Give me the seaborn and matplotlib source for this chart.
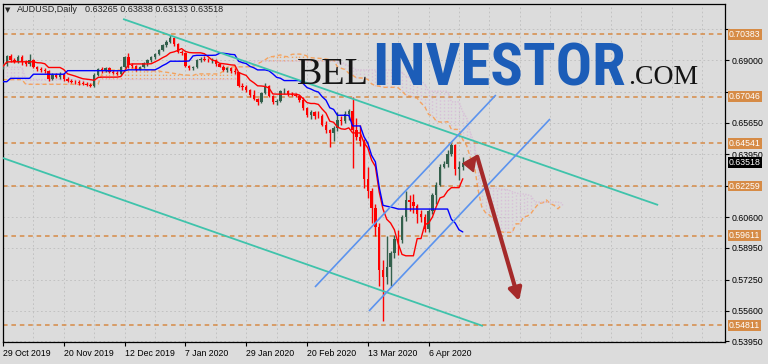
import numpy as np
import pandas as pd
import matplotlib
matplotlib.use("Agg")
import matplotlib.pyplot as plt
from matplotlib.patches import Polygon
import seaborn as sns

# ---------------- data ----------------
symbol_title = "AUDUSD,Daily"
last_ohlc = "0.63265 0.63838 0.63133 0.63518"

opens = [0.6856, 0.6878, 0.6920, 0.6898, 0.6890, 0.6916, 0.6890, 0.6876, 0.6902, 0.6862,
         0.6850, 0.6845, 0.6840, 0.6798, 0.6818, 0.6810, 0.6825, 0.6800, 0.6790, 0.6785,
         0.6782, 0.6778, 0.6772, 0.6766, 0.6762, 0.6822, 0.6850, 0.6845, 0.6856, 0.6838,
         0.6832, 0.6826, 0.6862, 0.6915, 0.6875, 0.6866, 0.6848, 0.6862, 0.6882, 0.6898,
         0.6915, 0.6930, 0.6955, 0.6978, 0.6998, 0.7020, 0.6985, 0.6945, 0.6940, 0.6868,
         0.6858, 0.6862, 0.6898, 0.6908, 0.6902, 0.6898, 0.6900, 0.6878, 0.6865, 0.6848,
         0.6855, 0.6840, 0.6835, 0.6762, 0.6755, 0.6738, 0.6712, 0.6690, 0.6675, 0.6725,
         0.6760, 0.6708, 0.6675, 0.6682, 0.6732, 0.6735, 0.6718, 0.6715, 0.6708, 0.6688,
         0.6642, 0.6605, 0.6620, 0.6602, 0.6598, 0.6555, 0.6525, 0.6512, 0.6535, 0.6580,
         0.6575, 0.6610, 0.6625, 0.6525, 0.6490, 0.6468, 0.6265, 0.6200, 0.6110, 0.6005,
         0.5775, 0.5740, 0.5795, 0.5870, 0.5945, 0.5935, 0.6060, 0.6150, 0.6140, 0.6120,
         0.6075, 0.6060, 0.5995, 0.6095, 0.6180, 0.6230, 0.6330, 0.6345, 0.6395, 0.6445,
         0.6315, 0.63265]
highs = [0.6882, 0.6929, 0.6931, 0.6912, 0.6929, 0.6925, 0.6900, 0.6930, 0.6908, 0.6870,
         0.6865, 0.6858, 0.6845, 0.6830, 0.6830, 0.6835, 0.6828, 0.6810, 0.6800, 0.6795,
         0.6795, 0.6788, 0.6780, 0.6775, 0.6828, 0.6858, 0.6862, 0.6862, 0.6862, 0.6848,
         0.6840, 0.6868, 0.6922, 0.6940, 0.6885, 0.6872, 0.6870, 0.6888, 0.6905, 0.6920,
         0.6935, 0.6960, 0.6985, 0.7005, 0.7032, 0.7022, 0.6990, 0.6955, 0.6945, 0.6875,
         0.6870, 0.6905, 0.6915, 0.6920, 0.6912, 0.6910, 0.6905, 0.6885, 0.6872, 0.6862,
         0.6860, 0.6855, 0.6838, 0.6775, 0.6765, 0.6745, 0.6740, 0.6695, 0.6730, 0.6775,
         0.6765, 0.6712, 0.6690, 0.6740, 0.6750, 0.6740, 0.6730, 0.6722, 0.6712, 0.6700,
         0.6650, 0.6630, 0.6625, 0.6625, 0.6610, 0.6575, 0.6530, 0.6545, 0.6620, 0.6600,
         0.6625, 0.6640, 0.6700, 0.6590, 0.6550, 0.6478, 0.6330, 0.6215, 0.6130, 0.6030,
         0.5830, 0.5960, 0.5880, 0.5965, 0.5990, 0.6070, 0.6200, 0.6180, 0.6185, 0.6130,
         0.6100, 0.6075, 0.6105, 0.6190, 0.6250, 0.6345, 0.6360, 0.6420, 0.6455, 0.6450,
         0.6360, 0.63838]
lows = [0.6850, 0.6868, 0.6888, 0.6882, 0.6884, 0.6872, 0.6868, 0.6870, 0.6855, 0.6840,
        0.6838, 0.6830, 0.6790, 0.6792, 0.6805, 0.6800, 0.6790, 0.6782, 0.6775, 0.6770,
        0.6768, 0.6765, 0.6760, 0.6755, 0.6758, 0.6812, 0.6828, 0.6835, 0.6830, 0.6825,
        0.6818, 0.6820, 0.6855, 0.6858, 0.6858, 0.6840, 0.6845, 0.6855, 0.6870, 0.6890,
        0.6908, 0.6925, 0.6948, 0.6970, 0.6990, 0.6975, 0.6935, 0.6925, 0.6860, 0.6848,
        0.6845, 0.6855, 0.6890, 0.6895, 0.6890, 0.6885, 0.6870, 0.6860, 0.6840, 0.6835,
        0.6828, 0.6825, 0.6755, 0.6740, 0.6730, 0.6700, 0.6685, 0.6662, 0.6670, 0.6720,
        0.6700, 0.6665, 0.6660, 0.6678, 0.6720, 0.6705, 0.6705, 0.6700, 0.6675, 0.6635,
        0.6595, 0.6585, 0.6585, 0.6590, 0.6545, 0.6510, 0.6434, 0.6465, 0.6520, 0.6555,
        0.6565, 0.6580, 0.6320, 0.6470, 0.6440, 0.6214, 0.6160, 0.6030, 0.5960, 0.5690,
        0.5506, 0.5700, 0.5690, 0.5840, 0.5855, 0.5920, 0.6040, 0.6090, 0.6080, 0.6030,
        0.6035, 0.5980, 0.5980, 0.6075, 0.6130, 0.6225, 0.6320, 0.6330, 0.6385, 0.6285,
        0.6260, 0.63133]
closes = [0.6878, 0.6920, 0.6898, 0.6890, 0.6916, 0.6890, 0.6876, 0.6902, 0.6862, 0.6850,
          0.6845, 0.6840, 0.6798, 0.6818, 0.6810, 0.6825, 0.6800, 0.6790, 0.6785, 0.6782,
          0.6778, 0.6772, 0.6766, 0.6762, 0.6822, 0.6850, 0.6845, 0.6856, 0.6838, 0.6832,
          0.6826, 0.6862, 0.6915, 0.6875, 0.6866, 0.6848, 0.6862, 0.6882, 0.6898, 0.6915,
          0.6930, 0.6955, 0.6978, 0.6998, 0.7020, 0.6985, 0.6945, 0.6940, 0.6868, 0.6858,
          0.6862, 0.6898, 0.6908, 0.6902, 0.6898, 0.6900, 0.6878, 0.6865, 0.6848, 0.6855,
          0.6840, 0.6835, 0.6762, 0.6755, 0.6738, 0.6712, 0.6690, 0.6675, 0.6725, 0.6760,
          0.6708, 0.6675, 0.6682, 0.6732, 0.6735, 0.6718, 0.6715, 0.6708, 0.6688, 0.6642,
          0.6605, 0.6620, 0.6602, 0.6598, 0.6555, 0.6525, 0.6512, 0.6535, 0.6580, 0.6575,
          0.6610, 0.6625, 0.6525, 0.6490, 0.6468, 0.6265, 0.6200, 0.6110, 0.6005, 0.5775,
          0.5740, 0.5795, 0.5870, 0.5945, 0.5935, 0.6060, 0.6150, 0.6140, 0.6120, 0.6075,
          0.6060, 0.5995, 0.6095, 0.6180, 0.6230, 0.6330, 0.6345, 0.6395, 0.6445, 0.6315,
          0.63265, 0.63518]

# Ichimoku values that depend on bars before the visible window (step runs)
kijun_start_runs = [(0.6784, 2), (0.6802, 6), (0.6824, 9), (0.6843, 8)]          # bars 0..24
span_a_start_runs = [(0.6795, 6), (0.6770, 20)]                                  # cloud bars 0..25
span_b_start_runs = [(0.6861, 6), (0.6796, 56), (0.6894, 15)]                    # cloud bars 0..76

# horizontal levels (orange labels) and right-axis ticks
levels = [0.70383, 0.67046, 0.64541, 0.62259, 0.59611, 0.54811]
current_price = 0.63518
price_ticks = [0.70650, 0.69000, 0.67300, 0.65650, 0.63950, 0.62250,
               0.60600, 0.58950, 0.57250, 0.55600, 0.53950]
hidden_tick_labels = [0.70650, 0.67300, 0.62250]   # covered by the level boxes

# drawn objects: (bar index, price) endpoints
teal_lines = [((31.6, 0.71193), (172.4, 0.61246)),
              ((-0.8, 0.63813), (126.3, 0.54775))]
blue_lines = [((82.1, 0.56861), (129.7, 0.67128)),
              ((96.3, 0.55578), (143.95, 0.65845))]
arrow_start = (124.8, 0.63829)
arrow_end = (135.8, 0.56112)
marker_triangle = [(121.1, 0.63476), (124.5, 0.63866), (123.8, 0.63027)]

watermark = [("BEL", "#151515", ["Liberation Serif", "DejaVu Serif"], "normal", 297, 369, 84),
             ("INVESTOR", "#1c5db8",
              ["Liberation Sans Narrow", "Roboto Condensed", "DejaVu Sans Condensed",
               "Liberation Sans", "DejaVu Sans"], "bold", 372, 625, 86),
             (".COM", "#151515", ["Liberation Serif", "DejaVu Serif"], "normal", 628, 698, 84)]

# ---------------- styling ----------------
BG = "#dcdcdc"
BULL = "#33604c"
BEAR = "#ff0000"
LEVEL = "#d68b46"
SANDY = "#f4a460"
THISTLE = "#d8bfd8"
TEAL = "#3fc3ab"
CBLUE = "#5b93ee"
BROWN = "#a52a2a"

sns.set_theme(style="white")
plt.rcParams["font.family"] = ["Liberation Sans", "DejaVu Sans"]

dates = pd.bdate_range("2019-10-29", "2020-04-17")
dates = dates[~dates.isin(pd.to_datetime(["2019-12-25", "2020-01-01"]))]
n = len(opens)
df = pd.DataFrame({"bar": np.arange(n), "date": dates[:n], "open": opens,
                   "high": highs, "low": lows, "close": closes})


def expand(runs):
    out = []
    for v, c in runs:
        out += [v] * c
    return np.array(out)


H, L = df["high"], df["low"]
tenkan = (H.rolling(9, min_periods=1).max() + L.rolling(9, min_periods=1).min()) / 2
kijun = (H.rolling(26, min_periods=26).max() + L.rolling(26, min_periods=26).min()) / 2
kijun.iloc[:25] = expand(kijun_start_runs)
mid52 = (H.rolling(52, min_periods=52).max() + L.rolling(52, min_periods=52).min()) / 2
nc = n + 26
span_a = np.full(nc, np.nan)
span_a[26:] = ((tenkan + kijun) / 2).values
span_a[:26] = expand(span_a_start_runs)
span_b = np.full(nc, np.nan)
span_b[26:] = mid52.values
span_b[:77] = expand(span_b_start_runs)
cloud = pd.DataFrame({"bar": np.arange(nc), "a": span_a, "b": span_b})

W, Hh = 768, 364
fig = plt.figure(figsize=(W / 100, Hh / 100), dpi=100, facecolor=BG)
ax = fig.add_axes([3 / W, 22 / Hh, 722 / W, 338 / Hh])
ax.set_facecolor(BG)
ax.set_xlim(0, 190)
ax.set_ylim(0.5392, 0.71995)

# grid
for gx in range(0, 190, 8):
    ax.axvline(gx, color="#bdbdbd", lw=0.6, ls=(0, (2, 3)), zorder=0.5)
for gy in price_ticks:
    ax.axhline(gy, color="#bdbdbd", lw=0.6, ls=(0, (2, 3)), zorder=0.5)

# ichimoku cloud (dotted hatch)
hatch_col = np.where(cloud["a"] >= cloud["b"], SANDY, THISTLE)
ax.vlines(cloud["bar"], cloud[["a", "b"]].min(axis=1), cloud[["a", "b"]].max(axis=1),
          colors=hatch_col, linestyles=(0, (1, 1.5)), lw=1.0, zorder=1)
sns.lineplot(x=cloud["bar"], y=cloud["a"], ax=ax, color=SANDY, lw=1.0,
             linestyle=(0, (3, 2)), zorder=1.5, legend=False)
sns.lineplot(x=cloud["bar"], y=cloud["b"], ax=ax, color=THISTLE, lw=1.0,
             linestyle=(0, (1, 1)), zorder=1.5, legend=False)

# horizontal levels
for lv in levels:
    ax.axhline(lv, color=LEVEL, lw=1.1, ls=(0, (3, 2.5)), zorder=2)

# candles
up = df["close"] >= df["open"]
ccol = np.where(up, BULL, BEAR)
ax.vlines(df["bar"], df["low"], df["high"], colors=ccol, lw=1.0, zorder=4)
body = (df["close"] - df["open"]).abs().clip(lower=0.00018)
ax.bar(df["bar"], body, bottom=np.minimum(df["open"], df["close"]), width=0.66,
       color=ccol, linewidth=0, zorder=5)

# tenkan / kijun
sns.lineplot(x=df["bar"], y=tenkan, ax=ax, color="#ff0000", lw=1.0, zorder=6, legend=False)
sns.lineplot(x=df["bar"], y=kijun, ax=ax, color="#0000ff", lw=1.0, zorder=6, legend=False)

# trend lines / channels
for (x0, y0), (x1, y1) in teal_lines:
    ax.plot([x0, x1], [y0, y1], color=TEAL, lw=1.3, zorder=7, solid_capstyle="butt")
for (x0, y0), (x1, y1) in blue_lines:
    ax.plot([x0, x1], [y0, y1], color=CBLUE, lw=1.2, zorder=7, solid_capstyle="butt")

# arrow and marker
ax.annotate("", xy=arrow_end, xytext=arrow_start,
            arrowprops=dict(arrowstyle="-|>,head_length=0.6,head_width=0.32",
                            color=BROWN, lw=3.0, shrinkA=0, shrinkB=0), zorder=8)
ax.add_patch(Polygon(marker_triangle, closed=True, color=BROWN, zorder=8))

# axes / ticks
for s in ax.spines.values():
    s.set_visible(True)
    s.set_color("black")
    s.set_linewidth(0.9)
ax.yaxis.tick_right()
ax.set_yticks(price_ticks)
ax.set_yticklabels(["" if t in hidden_tick_labels else f"{t:.5f}" for t in price_ticks])
ax.tick_params(axis="y", direction="out", length=3, width=0.8, pad=1.5,
               labelsize=6.3, colors="black", right=True, left=False)
xt = list(range(0, n, 16))
ax.set_xticks(xt)
ax.set_xticklabels([f"{d.day} {d.strftime('%b %Y')}" for d in df["date"].iloc[xt]], ha="left")
ax.tick_params(axis="x", direction="out", length=3, width=0.8, pad=2,
               labelsize=6.3, colors="black", bottom=True)
ax.set_xlabel("")
ax.set_ylabel("")

# right-axis boxed labels
ytr = ax.get_yaxis_transform()
for lv in levels:
    ax.text(1 + 4 / 722, lv, f"{lv:.5f}", transform=ytr, ha="left", va="center",
            color="white", fontsize=6.3, zorder=20, clip_on=False,
            bbox=dict(boxstyle="square,pad=0.1", fc=LEVEL, ec="none"))
ax.text(1 + 4 / 722, current_price, f"{current_price:.5f}", transform=ytr, ha="left",
        va="center", color="white", fontsize=6.3, zorder=20, clip_on=False,
        bbox=dict(boxstyle="square,pad=0.1", fc="black", ec="none"))

# title
fig.text(5 / W, 1 - 10 / Hh, "\u25bc", fontsize=5, va="center", ha="left",
         family=["DejaVu Sans"])
fig.text(17 / W, 1 - 10 / Hh, symbol_title, fontsize=6.5, va="center", ha="left")
fig.text(85 / W, 1 - 10 / Hh, last_ohlc, fontsize=6.5, va="center", ha="left")

# watermark, font size fitted to the width seen in the reference
renderer = fig.canvas.get_renderer()
for txt, col, fam, wt, x0, x1, base in watermark:
    t = fig.text(x0 / W, 1 - base / Hh, txt, fontsize=30, va="baseline", ha="left",
                 color=col, weight=wt, family=fam, zorder=30)
    bb = t.get_window_extent(renderer=renderer)
    t.set_fontsize(30 * (x1 - x0) / bb.width)

fig.savefig("out.png", dpi=100, facecolor=BG)
